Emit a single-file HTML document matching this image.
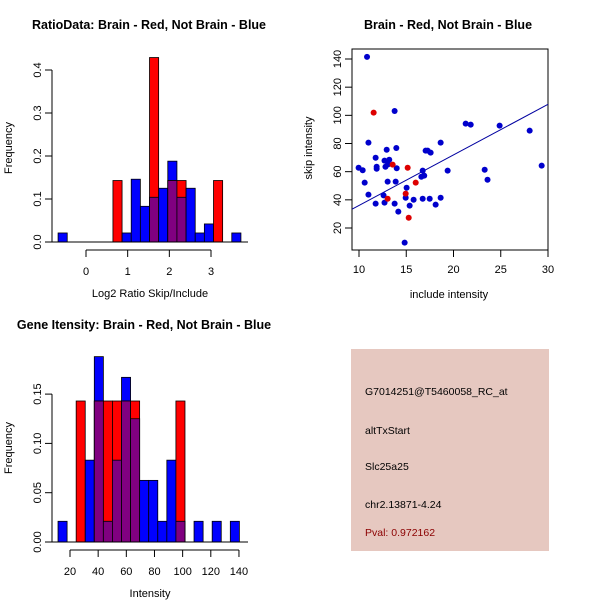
<!DOCTYPE html>
<html><head><meta charset="utf-8"><style>
body{margin:0;background:#fff;}
svg{display:block;font-family:"Liberation Sans",sans-serif;}
</style></head><body>
<svg id="s" width="600" height="600" viewBox="0 0 600 600">
<rect width="600" height="600" fill="#fff"/>
<text x="149" y="29" font-size="12.5" font-weight="bold" text-anchor="middle">RatioData: Brain - Red, Not Brain - Blue</text>
<text x="448" y="29" font-size="12.5" font-weight="bold" text-anchor="middle">Brain - Red, Not Brain - Blue</text>
<text x="144" y="329" font-size="12.5" font-weight="bold" text-anchor="middle">Gene Itensity: Brain - Red, Not Brain - Blue</text>
<g id="p1"></g>
<g id="p2"></g>
<g id="p3"></g>
<g>
<rect x="351" y="349" width="198" height="202" fill="#e6c8c0"/>
<text x="365" y="395" font-size="10.5">G7014251@T5460058_RC_at</text>
<text x="365" y="434" font-size="10.5">altTxStart</text>
<text x="365" y="470" font-size="10.5">Slc25a25</text>
<text x="365" y="508" font-size="10.5">chr2.13871-4.24</text>
<text x="365" y="536" font-size="10.5" fill="#8b0000">Pval: 0.972162</text>
</g>
</svg>
<script>
const NS="http://www.w3.org/2000/svg";
function mk(p,tag,a){const e=document.createElementNS(NS,tag);for(const k in a)e.setAttribute(k,a[k]);p.appendChild(e);return e;}

// Ratio histogram data
const ratioStart=-0.67, ratioBinW=0.2194;
const ratioBlue=[0.021,0,0,0,0,0,0,0.021,0.146,0.083,0.104,0.125,0.188,0.104,0.125,0.021,0.042,0,0,0.021];
const ratioRed=[0,0,0,0,0,0,0.143,0,0,0,0.429,0,0.143,0.143,0,0,0,0.143,0,0];
const ratioXTicks=[0,1,2,3];
const ratioYTicks=["0.0","0.1","0.2","0.3","0.4"];

// Intensity histogram data
const intStart=11.5, intBinW=6.44;
const intBlue=[0.021,0,0,0.083,0.188,0.021,0.083,0.167,0.125,0.0625,0.0625,0.021,0.083,0.021,0,0.021,0,0.021,0,0.021];
const intRed=[0,0,0.143,0,0.143,0.143,0.143,0.143,0.143,0,0,0,0,0.143,0,0,0,0,0,0];
const intXTicks=[20,40,60,80,100,120,140];
const intYTicks=["0.00","0.05","0.10","0.15"];

// Scatter data
const blueX=[10.85,13.77,11.0,13.95,12.93,11.76,12.7,13.2,11.87,11.87,12.8,13.07,13.99,9.96,10.39,10.6,13.03,13.88,11.0,12.6,11.76,12.7,13.77,14.16,14.94,15.04,15.36,15.78,16.74,17.48,18.11,18.64,14.83,16.6,16.9,16.74,17.05,17.27,17.58,18.64,19.38,21.29,21.82,24.88,23.3,23.6,28.06,29.33];
const blueY=[141.5,103.1,80.6,76.8,75.6,69.9,67.8,68.5,63.5,62.1,63.5,65.2,62.4,62.8,61,52.2,52.9,52.9,43.7,43.2,37.3,38,37.3,31.6,41.5,48.6,35.9,40.1,40.8,40.8,36.6,41.5,9.6,56.4,57.2,60.7,74.9,74.9,73.5,80.6,60.7,94.1,93.4,92.7,61.4,54.3,89.1,64.3];
const redX=[11.55,13.56,15.15,16.0,14.94,13.03,15.26];
const redY=[101.9,65,62.8,52.2,44.4,40.8,27.3];
const fitCoef=[0.1,3.59];
const scXTicks=[10,15,20,25,30];
const scYTicks=[20,40,60,80,100,120,140];

function hist(g,o){
  const sx=v=>o.x0px+(v-o.x0)*o.pxPerX, sy=v=>o.y0px-v*o.pxPerY;
  const n=o.blue.length;
  for(let i=0;i<n;i++){
    const a=sx(o.start+i*o.bw), b=sx(o.start+(i+1)*o.bw);
    const bl=o.blue[i], rd=o.red[i];
    if(bl>0){const r=mk(g,'rect',{x:a,y:sy(bl),width:b-a,height:sy(0)-sy(bl),fill:'#0000ff',stroke:'#000','stroke-width':0.8});
      
      }
    if(rd>0){const r=mk(g,'rect',{x:a,y:sy(rd),width:b-a,height:sy(0)-sy(rd),fill:'#ff0000',stroke:'#000','stroke-width':0.8});
      
      }
    if(bl>0&&rd>0){const m=Math.min(bl,rd);const r=mk(g,'rect',{x:a,y:sy(m),width:b-a,height:sy(0)-sy(m),fill:'#800080',stroke:'#000','stroke-width':0.8});
      
      }
  }
  mk(g,'line',{x1:52,x2:248,y1:o.y0px,y2:o.y0px,stroke:'#000'});
  const yt=o.yTicks.map(parseFloat);
  mk(g,'line',{x1:52,x2:52,y1:sy(yt[0]),y2:sy(yt[yt.length-1]),stroke:'#000'});
  o.yTicks.forEach(t=>{const y=sy(parseFloat(t));mk(g,'line',{x1:45,x2:52,y1:y,y2:y,stroke:'#000'});
    const tx=mk(g,'text',{x:0,y:0,'font-size':11,'text-anchor':'middle',transform:`translate(41,${y}) rotate(-90)`});tx.textContent=t;
    
    });
  const ax=o.y0px+8;
  mk(g,'line',{x1:sx(o.xTicks[0]),x2:sx(o.xTicks[o.xTicks.length-1]),y1:ax,y2:ax,stroke:'#000'});
  o.xTicks.forEach(t=>{const x=sx(t);mk(g,'line',{x1:x,x2:x,y1:ax,y2:ax+7,stroke:'#000'});
    const tx=mk(g,'text',{x:x,y:ax+25,'font-size':11,'text-anchor':'middle'});tx.textContent=t;
    
    });
  const xl=mk(g,'text',{x:150,y:o.y0px+55,'font-size':11,'text-anchor':'middle'});xl.textContent=o.xlab;
  
  
  const yl=mk(g,'text',{x:0,y:0,'font-size':11,'text-anchor':'middle',transform:`translate(12,${o.y0px-94}) rotate(-90)`});yl.textContent='Frequency';
  
  
}
hist(document.getElementById('p1'),{x0:0,x0px:86,pxPerX:41.67,y0px:242,pxPerY:430,start:ratioStart,bw:ratioBinW,blue:ratioBlue,red:ratioRed,xTicks:ratioXTicks,yTicks:ratioYTicks,xlab:'Log2 Ratio Skip/Include'});
hist(document.getElementById('p3'),{x0:20,x0px:70,pxPerX:1.408,y0px:542,pxPerY:986,start:intStart,bw:intBinW,blue:intBlue,red:intRed,xTicks:intXTicks,yTicks:intYTicks,xlab:'Intensity'});

(function(){
  const g=document.getElementById('p2');
  const sx=v=>359+(v-10)*9.45, sy=v=>228-(v-20)*1.4083;
  mk(g,'rect',{x:352,y:49,width:196,height:201,fill:'none',stroke:'#000'});
  const cp=mk(g,'clipPath',{id:'cp'});mk(cp,'rect',{x:352,y:49,width:196,height:201});
  const x1=(352-359)/9.45+10, x2=(548-359)/9.45+10;
  const ln=mk(g,'line',{x1:sx(x1),y1:sy(fitCoef[0]+fitCoef[1]*x1),x2:sx(x2),y2:sy(fitCoef[0]+fitCoef[1]*x2),stroke:'#0000a0','stroke-width':1,'clip-path':'url(#cp)'});
  
  
  blueX.forEach((x,i)=>{const c=mk(g,'circle',{cx:sx(x),cy:sy(blueY[i]),r:3,fill:'#0000cc'});
    
    });
  redX.forEach((x,i)=>{const c=mk(g,'circle',{cx:sx(x),cy:sy(redY[i]),r:3,fill:'#dd0000'});
    
    });
  scXTicks.forEach(t=>{const x=sx(t);mk(g,'line',{x1:x,x2:x,y1:250,y2:257,stroke:'#000'});
    const tx=mk(g,'text',{x:x,y:273,'font-size':11,'text-anchor':'middle'});tx.textContent=t;
    
    });
  scYTicks.forEach(t=>{const y=sy(t);mk(g,'line',{x1:345,x2:352,y1:y,y2:y,stroke:'#000'});
    const tx=mk(g,'text',{x:0,y:0,'font-size':11,'text-anchor':'middle',transform:`translate(341,${y}) rotate(-90)`});tx.textContent=t;
    
    });
  const xl=mk(g,'text',{x:449,y:298,'font-size':11,'text-anchor':'middle'});xl.textContent='include intensity';
  
  
  const yl=mk(g,'text',{x:0,y:0,'font-size':11,'text-anchor':'middle',transform:'translate(312,148) rotate(-90)'});yl.textContent='skip intensity';
  
  
})();
</script>
</body></html>
